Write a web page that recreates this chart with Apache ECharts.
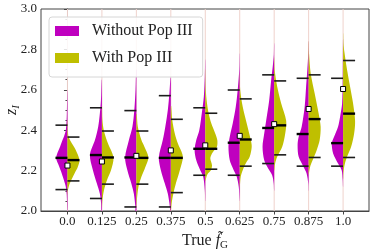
<!DOCTYPE html>
<html><head><meta charset="utf-8">
<script src="https://cdn.jsdelivr.net/npm/echarts@6/dist/echarts.min.js"></script>
<style>html,body{margin:0;padding:0;background:#fff}#c{width:374px;height:252px}</style>
</head><body><div id="c"></div>
<script>
// ---- data ----
const categories = [0, 0.125, 0.25, 0.375, 0.5, 0.625, 0.75, 0.875, 1.0];
const tickLabels = ['0.0', '0.125', '0.25', '0.375', '0.5', '0.625', '0.75', '0.875', '1.0'];
const seriesNames = ['Without Pop III', 'With Pop III'];

// quantile lines (low / median / high) per category
const withoutLow    = [2.106, 2.062, 2.020, 2.020, 2.177, 2.177, 2.235, 2.222, 2.222];
const withoutMedian = [2.263, 2.277, 2.265, 2.263, 2.308, 2.338, 2.411, 2.381, 2.336];
const withoutHigh   = [2.425, 2.511, 2.497, 2.571, 2.511, 2.599, 2.674, 2.657, 2.657];
const withLow       = [2.149, 2.133, 2.133, 2.091, 2.207, 2.222, 2.278, 2.265, 2.265];
const withMedian    = [2.252, 2.265, 2.263, 2.263, 2.308, 2.354, 2.424, 2.455, 2.482];
const withHigh      = [2.366, 2.396, 2.396, 2.454, 2.484, 2.555, 2.644, 2.674, 2.745];
// white square markers
const markerValues  = [2.225, 2.245, 2.273, 2.300, 2.325, 2.372, 2.430, 2.505, 2.604];

// density profiles [z, relative density] for each half violin
const withoutDensity = [
  [[2.00,.02],[2.08,.06],[2.12,.14],[2.15,.28],[2.185,.47],[2.22,.69],[2.263,.94],[2.32,.60],[2.35,.42],[2.37,.28],[2.40,.14],[2.45,.07],[2.52,.04],[2.60,.01]],
  [[2.00,.04],[2.04,.07],[2.086,.17],[2.136,.42],[2.202,.75],[2.277,1.0],[2.351,.58],[2.417,.31],[2.484,.17],[2.55,.08],[2.65,.02]],
  [[2.00,.07],[2.02,.08],[2.086,.21],[2.136,.42],[2.202,.75],[2.265,.94],[2.351,.62],[2.417,.33],[2.50,.17],[2.60,.07],[2.70,.02]],
  [[2.00,.04],[2.04,.12],[2.086,.25],[2.136,.5],[2.202,.83],[2.265,1.0],[2.351,.67],[2.417,.46],[2.50,.25],[2.583,.12],[2.66,.03]],
  [[2.05,.01],[2.103,.04],[2.169,.17],[2.202,.42],[2.251,.75],[2.301,.89],[2.351,.75],[2.40,.5],[2.484,.29],[2.566,.12],[2.665,.04],[2.75,.01]],
  [[2.05,.01],[2.119,.08],[2.169,.25],[2.202,.5],[2.251,.83],[2.318,.94],[2.367,.83],[2.434,.58],[2.516,.33],[2.599,.17],[2.699,.04],[2.78,.01]],
  [[2.10,.01],[2.136,.04],[2.177,.17],[2.21,.5],[2.251,.83],[2.318,.97],[2.384,.83],[2.447,.67],[2.546,.42],[2.649,.25],[2.715,.12],[2.773,.03],[2.83,.01]],
  [[2.10,.01],[2.136,.03],[2.186,.17],[2.218,.42],[2.268,.83],[2.326,.92],[2.367,.83],[2.417,.58],[2.516,.33],[2.616,.21],[2.699,.11],[2.782,.03],[2.84,.01]],
  [[2.12,.01],[2.152,.03],[2.202,.12],[2.235,.42],[2.285,.83],[2.335,.94],[2.367,.75],[2.417,.42],[2.467,.25],[2.533,.08],[2.65,.03],[2.75,.02],[2.85,.01]]
];
const withDensity = [
  [[2.08,.01],[2.10,.03],[2.127,.14],[2.152,.31],[2.185,.58],[2.218,.86],[2.252,1.0],[2.302,.69],[2.335,.36],[2.366,.1],[2.40,.03],[2.45,.01]],
  [[2.02,.01],[2.053,.04],[2.103,.17],[2.152,.42],[2.20,.75],[2.265,.96],[2.335,.5],[2.396,.17],[2.45,.04],[2.52,.01]],
  [[2.02,.01],[2.053,.04],[2.119,.17],[2.169,.42],[2.218,.75],[2.265,1.0],[2.318,.67],[2.351,.42],[2.417,.12],[2.48,.03]],
  [[2.00,.01],[2.04,.07],[2.086,.21],[2.136,.42],[2.202,.75],[2.27,1.0],[2.335,.58],[2.384,.33],[2.45,.12],[2.52,.03]],
  [[2.15,.02],[2.17,.1],[2.186,.22],[2.202,.47],[2.227,.56],[2.26,.42],[2.285,.56],[2.318,.97],[2.351,1.0],[2.384,.83],[2.434,.5],[2.484,.28],[2.55,.11],[2.62,.03],[2.70,.01]],
  [[2.12,.01],[2.169,.08],[2.202,.25],[2.235,.5],[2.268,.83],[2.318,1.0],[2.351,.92],[2.434,.58],[2.516,.25],[2.60,.04],[2.68,.01]],
  [[2.20,.01],[2.235,.08],[2.268,.25],[2.318,.67],[2.384,.92],[2.447,1.0],[2.533,.58],[2.616,.25],[2.699,.04],[2.76,.01]],
  [[2.18,.01],[2.218,.12],[2.251,.33],[2.301,.67],[2.351,.92],[2.417,1.0],[2.484,.83],[2.583,.5],[2.682,.17],[2.782,.03],[2.84,.01]],
  [[2.16,.01],[2.19,.03],[2.227,.12],[2.268,.33],[2.318,.67],[2.384,.92],[2.447,1.0],[2.533,.83],[2.616,.58],[2.699,.33],[2.782,.12],[2.831,.03],[2.88,.01]]
];

// ---- styling ----
const MAGENTA = '#bf00bf', OLIVE = '#bfbf00';
const HALF_PX = 12, LINE_PX = 12;
const SERIF = '"Liberation Serif", "DejaVu Serif", serif';
const AXIS = '#444';
const Y_MIN = 2.0, Y_MAX = 3.0;

const chart = echarts.init(document.getElementById('c'), null, {renderer: 'canvas'});

function violinSeries(name, profiles, medians, side, color) {
  return {
    type: 'custom', name, coordinateSystem: 'cartesian2d', silent: true, z: 2,
    itemStyle: {color},
    data: categories.map((c, i) => [c, medians[i], i]),
    encode: {x: 0, y: 1},
    renderItem(params, api) {
      const i = api.value(2);
      const x = categories[i];
      const outer = [], inner = [];
      profiles[i].forEach(([z, d]) => {
        const p = api.coord([x, z]);
        outer.push([p[0] + side * d * HALF_PX, p[1]]);
        inner.push([p[0], p[1]]);
      });
      inner.reverse();
      return {type: 'polygon', shape: {points: outer.concat(inner), smooth: 0.3},
              style: {fill: color, stroke: null}};
    }
  };
}

const option = {
  animation: false,
  grid: {left: 41, right: 5, top: 9, bottom: 41, containLabel: false, outerBoundsMode: 'none',
         show: true, borderColor: AXIS, borderWidth: 1, backgroundColor: 'transparent'},
  legend: {
    data: seriesNames, orient: 'vertical', left: 49, top: 17,
    padding: [5, 10, 10, 6], itemWidth: 24, itemHeight: 10, itemGap: 9, icon: 'rect',
    backgroundColor: 'rgba(255,255,255,0.85)', borderColor: '#d6d6d6', borderWidth: 1, borderRadius: 3,
    selectedMode: false,
    textStyle: {fontFamily: SERIF, fontSize: 16, color: '#222', lineHeight: 18, padding: [0, 0, 0, 8]}
  },
  xAxis: {
    type: 'value', min: -0.096, max: 1.094,
    splitLine: {show: false},
    axisLine: {show: true, lineStyle: {color: AXIS, width: 1}},
    axisTick: {show: true, customValues: categories, length: 3.5, lineStyle: {color: AXIS}},
    axisLabel: {customValues: categories, margin: 4, fontFamily: SERIF, fontSize: 13, color: '#222',
                formatter: v => tickLabels[categories.findIndex(c => Math.abs(c - v) < 1e-6)] || ''},
    name: '{r|True }{f|f̃}{g|G}', nameLocation: 'middle', nameGap: 20, nameMoveOverlap: false,
    nameTextStyle: {rich: {
      r: {fontFamily: SERIF, fontSize: 16, color: '#222', lineHeight: 20},
      f: {fontFamily: SERIF, fontSize: 16, fontStyle: 'italic', color: '#222', lineHeight: 20},
      g: {fontFamily: SERIF, fontSize: 11, color: '#222', lineHeight: 12, verticalAlign: 'bottom'}
    }}
  },
  yAxis: {
    type: 'value', min: Y_MIN, max: Y_MAX, interval: 0.2,
    splitLine: {show: false},
    axisLine: {show: true, lineStyle: {color: AXIS, width: 1}},
    axisTick: {show: true, length: 3.5, lineStyle: {color: AXIS}},
    minorTick: {show: true, splitNumber: 4, length: 2, lineStyle: {color: AXIS}},
    axisLabel: {margin: 4, fontFamily: SERIF, fontSize: 13, color: '#222', formatter: v => v.toFixed(1)},
    name: '{a|z}{b|I}', nameLocation: 'middle', nameGap: 19, nameRotate: 90, nameMoveOverlap: false,
    nameTextStyle: {rich: {
      a: {fontFamily: SERIF, fontSize: 16, fontStyle: 'italic', color: '#222', lineHeight: 20},
      b: {fontFamily: SERIF, fontSize: 11, fontStyle: 'italic', color: '#222', lineHeight: 12, verticalAlign: 'bottom'}
    }}
  },
  series: [
    {
      type: 'custom', name: 'tails', silent: true, z: 1,
      data: categories.map((c, i) => [c, withoutMedian[i], i]), encode: {x: 0, y: 1},
      renderItem(params, api) {
        const x = categories[api.value(2)];
        const a = api.coord([x, Y_MIN]), b = api.coord([x, Y_MAX]);
        return {type: 'line', shape: {x1: a[0], y1: a[1], x2: b[0], y2: b[1]},
                style: {stroke: '#efd2cc', lineWidth: 1}};
      }
    },
    violinSeries(seriesNames[0], withoutDensity, withoutMedian, -1, MAGENTA),
    violinSeries(seriesNames[1], withDensity, withMedian, 1, OLIVE),
    {
      type: 'custom', name: 'quantiles', silent: true, z: 3,
      data: categories.map((c, i) => [c, withoutMedian[i], i]), encode: {x: 0, y: 1},
      renderItem(params, api) {
        const i = api.value(2), x = categories[i];
        const children = [];
        const add = (z, side, w, col) => {
          const p = api.coord([x, z]);
          children.push({type: 'line', shape: {x1: p[0], y1: p[1], x2: p[0] + side * LINE_PX, y2: p[1]},
                         style: {stroke: col, lineWidth: w}});
        };
        add(withoutLow[i], -1, 1.6, '#1c1c1c');
        add(withoutHigh[i], -1, 1.6, '#1c1c1c');
        add(withoutMedian[i], -1, 2.4, '#000');
        add(withLow[i], 1, 1.6, '#1c1c1c');
        add(withHigh[i], 1, 1.6, '#1c1c1c');
        add(withMedian[i], 1, 2.4, '#000');
        return {type: 'group', children};
      }
    },
    {
      type: 'scatter', name: 'marker', silent: true, z: 5,
      symbol: 'rect', symbolSize: 5,
      itemStyle: {color: '#fff', borderColor: '#000', borderWidth: 1, opacity: 1},
      data: categories.map((c, i) => [c, markerValues[i]])
    }
  ]
};
chart.setOption(option);
</script>
</body></html>
